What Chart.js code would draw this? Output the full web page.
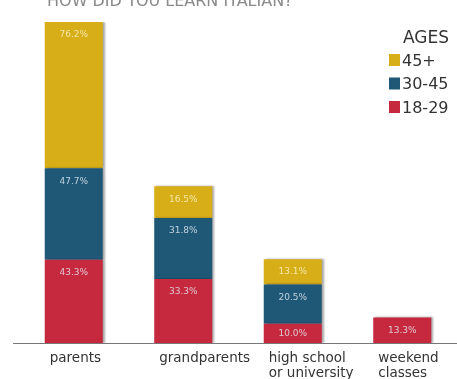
<!DOCTYPE html>
<html>
<head>
<meta charset="utf-8">
<script src="https://cdn.jsdelivr.net/npm/chart.js@4.4.1/dist/chart.umd.min.js"></script>
<style>
  html, body { margin: 0; padding: 0; background: #fff; }
  #wrap { position: relative; width: 457px; height: 379px; }
</style>
</head>
<body>
<div id="wrap"><canvas id="chart" width="457" height="379"></canvas></div>
<script>
/* ── data ── */
const categories = [['parents'], ['grandparents'], ['high school', 'or university'], ['weekend', 'classes']];
const ages1829 = [43.3, 33.3, 10.0, 13.3];
const ages3045 = [47.7, 31.8, 20.5, null];
const ages45 = [76.2, 16.5, 13.1, null];
const seriesNames = ['18-29', '30-45', '45+'];
const title = 'HOW DID YOU LEARN ITALIAN?';

const COL = { red: '#c6283e', blue: '#1f5877', yellow: '#d7ae18', text: '#333333' };
const FONT = '"DejaVu Sans", Verdana, sans-serif';

/* labels, axis line, legend, title */
const decorPlugin = {
  id: 'decor',
  beforeDatasetsDraw(chart) {
    const { ctx, chartArea } = chart;
    ctx.save();
    ctx.strokeStyle = '#777';
    ctx.lineWidth = 1;
    ctx.beginPath();
    ctx.moveTo(13, chartArea.bottom + 0.5);
    ctx.lineTo(chart.width, chartArea.bottom + 0.5);
    ctx.stroke();
    ctx.restore();
  },
  afterDatasetsDraw(chart) {
    const { ctx, chartArea } = chart;
    ctx.save();
    // value labels in the segments
    ctx.font = '9px ' + FONT;
    ctx.textAlign = 'center';
    ctx.textBaseline = 'middle';
    chart.data.datasets.forEach((ds, di) => {
      const meta = chart.getDatasetMeta(di);
      meta.data.forEach((el, i) => {
        const v = ds.data[i];
        if (v == null) return;
        const h = el.base - el.y;
        ctx.fillStyle = di === 2 ? 'rgba(255,248,215,0.75)' : 'rgba(230,236,242,0.8)';
        ctx.fillText(v.toFixed(1) + '%', el.x, el.y + Math.min(13, h / 2));
      });
    });
    // category labels
    ctx.font = '13.5px ' + FONT;
    ctx.textAlign = 'left';
    ctx.textBaseline = 'alphabetic';
    ctx.fillStyle = COL.text;
    const meta0 = chart.getDatasetMeta(0);
    categories.forEach((lines, i) => {
      const el = meta0.data[i];
      const left = el.x - el.width / 2 + 5;
      lines.forEach((t, j) => ctx.fillText(t, left, chartArea.bottom + 19 + j * 15));
    });
    // title (cut at the top edge)
    ctx.font = '16px ' + FONT;
    ctx.fillStyle = '#8a8a8a';
    ctx.fillText(title, 47, 6);
    // legend
    ctx.fillStyle = COL.text;
    ctx.font = '17px ' + FONT;
    ctx.fillText('AGES', 403, 43);
    ctx.font = '16px ' + FONT;
    const items = [[seriesNames[2], COL.yellow], [seriesNames[1], COL.blue], [seriesNames[0], COL.red]];
    items.forEach(([name, c], k) => {
      const y = 54 + k * 23.5;
      ctx.fillStyle = c;
      ctx.fillRect(389, y, 11, 12);
      ctx.fillStyle = COL.text;
      ctx.fillText(name, 402, y + 11.5);
    });
    ctx.restore();
  }
};

const shadow = {
  id: 'barShadow',
  beforeDatasetDraw(chart) {
    const ctx = chart.ctx;
    ctx.save();
    ctx.shadowColor = 'rgba(0,0,0,0.35)';
    ctx.shadowOffsetX = 2;
    ctx.shadowBlur = 2;
  },
  afterDatasetDraw(chart) { chart.ctx.restore(); }
};

new Chart(document.getElementById('chart'), {
  type: 'bar',
  data: {
    labels: categories.map(c => c.join(' ')),
    datasets: [
      { label: seriesNames[0], data: ages1829, backgroundColor: COL.red },
      { label: seriesNames[1], data: ages3045, backgroundColor: COL.blue },
      { label: seriesNames[2], data: ages45, backgroundColor: COL.yellow },
    ]
  },
  options: {
    responsive: false, animation: false,
    layout: { padding: { top: 22, left: 19, right: 0, bottom: 36 } },
    datasets: { bar: { barPercentage: 0.53, categoryPercentage: 1, borderWidth: 0 } },
    plugins: { legend: { display: false }, tooltip: { enabled: false } },
    scales: {
      x: { stacked: true, display: false },
      y: { stacked: true, display: false, min: 0, max: 167.2 }
    }
  },
  plugins: [shadow, decorPlugin]
});
</script>
</body>
</html>
